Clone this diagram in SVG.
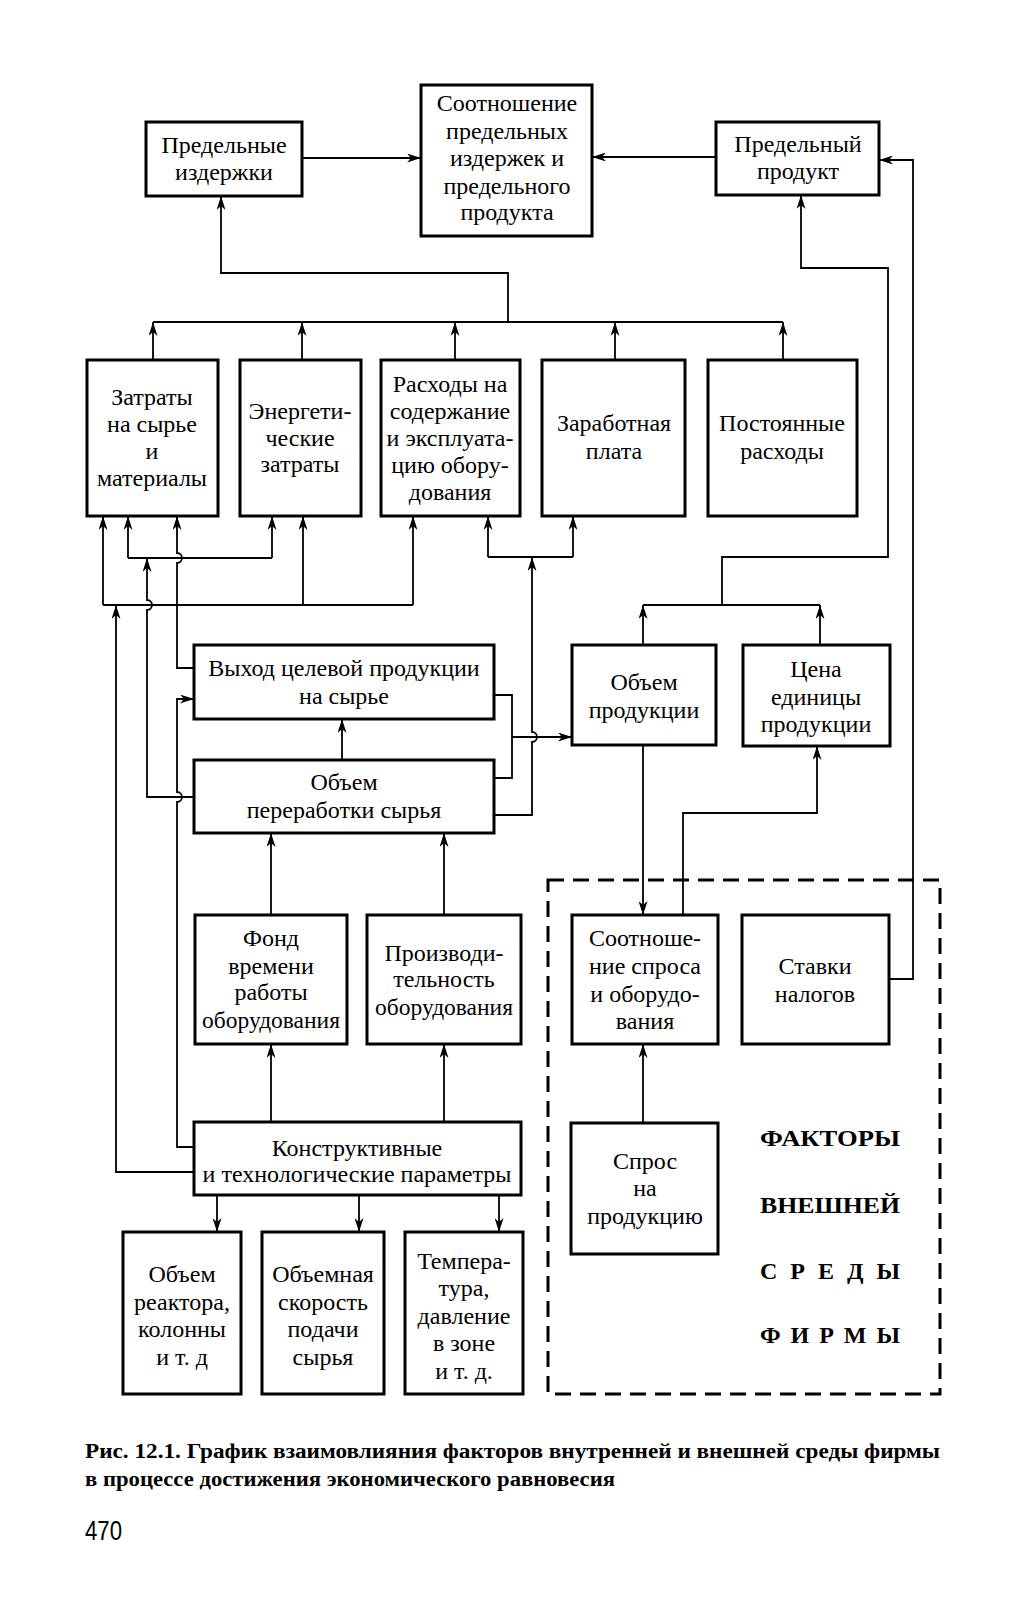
<svg xmlns="http://www.w3.org/2000/svg" width="1022" height="1600" viewBox="0 0 1022 1600">
<style>
.box{fill:#fff;stroke:#000;stroke-width:3}
.ln{fill:none;stroke:#000;stroke-width:1.8}
.dash{fill:none;stroke:#000;stroke-width:3;stroke-dasharray:16 9}
text{font-family:"Liberation Serif","DejaVu Serif",serif;font-size:24px;text-anchor:middle;fill:#000}
.big{font-size:24px;font-weight:bold;text-anchor:start}
.cap{font-size:20px;font-weight:bold;text-anchor:start}
.num{font-family:"Liberation Sans","DejaVu Sans",sans-serif;font-size:28px;text-anchor:start}
</style>
<defs>
<marker id="ar" markerUnits="userSpaceOnUse" markerWidth="15" markerHeight="9" refX="14" refY="4.5" orient="auto">
<path d="M0,0 L14,4.5 L0,9 L4,4.5 z" fill="#000"/>
</marker>
</defs>
<rect width="1022" height="1600" fill="#fff"/>

<g id="connectors">
<path class="ln" d="M302,158 L421,158" marker-end="url(#ar)"/>
<path class="ln" d="M716,157 L592,157" marker-end="url(#ar)"/>
<path class="ln" d="M153,322 L783,322"/>
<path class="ln" d="M508,322 L508,273 L221,273 L221,196" marker-end="url(#ar)"/>
<path class="ln" d="M153,360 L153,322" marker-end="url(#ar)"/>
<path class="ln" d="M302,360 L302,322" marker-end="url(#ar)"/>
<path class="ln" d="M455,360 L455,322" marker-end="url(#ar)"/>
<path class="ln" d="M615,360 L615,322" marker-end="url(#ar)"/>
<path class="ln" d="M783,360 L783,322" marker-end="url(#ar)"/>
<path class="ln" d="M889,979 L913,979 L913,160 L879,160" marker-end="url(#ar)"/>
<path class="ln" d="M722,605 L722,557 L888,557 L888,268 L801,268 L801,195" marker-end="url(#ar)"/>
<path class="ln" d="M643,605 L820,605"/>
<path class="ln" d="M643,645 L643,605" marker-end="url(#ar)"/>
<path class="ln" d="M820,645 L820,605" marker-end="url(#ar)"/>
<path class="ln" d="M128,558 L272,558"/>
<path class="ln" d="M128,558 L128,516" marker-end="url(#ar)"/>
<path class="ln" d="M272,558 L272,516" marker-end="url(#ar)"/>
<path class="ln" d="M194,797 L147,797 L147,610 A5,5 0 0 0 147,600 L147,558" marker-end="url(#ar)"/>
<path class="ln" d="M103,605 L413,605"/>
<path class="ln" d="M103,605 L103,516" marker-end="url(#ar)"/>
<path class="ln" d="M303,605 L303,516" marker-end="url(#ar)"/>
<path class="ln" d="M413,605 L413,516" marker-end="url(#ar)"/>
<path class="ln" d="M194,1172 L116,1172 L116,605" marker-end="url(#ar)"/>
<path class="ln" d="M194,668 L177,668 L177,563 A5,5 0 0 0 177,553 L177,516" marker-end="url(#ar)"/>
<path class="ln" d="M194,1147 L177,1147 L177,802 A5,5 0 0 0 177,792 L177,699 L194,699" marker-end="url(#ar)"/>
<path class="ln" d="M342,760 L342,719" marker-end="url(#ar)"/>
<path class="ln" d="M494,695 L512,695 L512,778 L494,778"/>
<path class="ln" d="M512,737 L572,737" marker-end="url(#ar)"/>
<path class="ln" d="M494,815 L532,815 L532,742 A5,5 0 0 0 532,732 L532,557" marker-end="url(#ar)"/>
<path class="ln" d="M488,557 L573,557"/>
<path class="ln" d="M488,557 L488,516" marker-end="url(#ar)"/>
<path class="ln" d="M573,557 L573,516" marker-end="url(#ar)"/>
<path class="ln" d="M271,915 L271,833" marker-end="url(#ar)"/>
<path class="ln" d="M444,915 L444,833" marker-end="url(#ar)"/>
<path class="ln" d="M271,1122 L271,1044" marker-end="url(#ar)"/>
<path class="ln" d="M444,1122 L444,1044" marker-end="url(#ar)"/>
<path class="ln" d="M217,1195 L217,1232" marker-end="url(#ar)"/>
<path class="ln" d="M359,1195 L359,1232" marker-end="url(#ar)"/>
<path class="ln" d="M499,1195 L499,1232" marker-end="url(#ar)"/>
<path class="ln" d="M643,745 L643,915" marker-end="url(#ar)"/>
<path class="ln" d="M683,915 L683,813 L817,813 L817,746" marker-end="url(#ar)"/>
<path class="ln" d="M643,1123 L643,1044" marker-end="url(#ar)"/>
</g>

<rect class="dash" x="548" y="880" width="392" height="514"/>

<g id="pred-izderzhki">
<rect class="box" x="146" y="122" width="156" height="74"/>
<text x="224" y="153">Предельные</text>
<text x="224" y="180">издержки</text>
</g>
<g id="sootnoshenie">
<rect class="box" x="421" y="85" width="171" height="151"/>
<text x="507" y="111">Соотношение</text>
<text x="507" y="139">предельных</text>
<text x="507" y="166">издержек и</text>
<text x="507" y="194">предельного</text>
<text x="507" y="220">продукта</text>
</g>
<g id="pred-produkt">
<rect class="box" x="716" y="122" width="163" height="73"/>
<text x="798" y="152">Предельный</text>
<text x="798" y="179">продукт</text>
</g>

<g id="zatraty-syrye">
<rect class="box" x="87" y="360" width="131" height="156"/>
<text x="152" y="405">Затраты</text>
<text x="152" y="432">на сырье</text>
<text x="152" y="459">и</text>
<text x="152" y="486">материалы</text>
</g>
<g id="energ">
<rect class="box" x="240" y="360" width="121" height="156"/>
<text x="300" y="419">Энергети-</text>
<text x="300" y="446">ческие</text>
<text x="300" y="472">затраты</text>
</g>
<g id="rashody">
<rect class="box" x="381" y="360" width="139" height="156"/>
<text x="450" y="392">Расходы на</text>
<text x="450" y="419">содержание</text>
<text x="450" y="446">и эксплуата-</text>
<text x="450" y="473">цию обору-</text>
<text x="450" y="500">дования</text>
</g>
<g id="zarplata">
<rect class="box" x="542" y="360" width="143" height="156"/>
<text x="614" y="431">Заработная</text>
<text x="614" y="459">плата</text>
</g>
<g id="postoyannye">
<rect class="box" x="708" y="360" width="149" height="156"/>
<text x="782" y="431">Постоянные</text>
<text x="782" y="459">расходы</text>
</g>

<g id="vyhod">
<rect class="box" x="194" y="645" width="300" height="74"/>
<text x="344" y="676">Выход целевой продукции</text>
<text x="344" y="704">на сырье</text>
</g>
<g id="obem-pererabotki">
<rect class="box" x="194" y="760" width="300" height="73"/>
<text x="344" y="790">Объем</text>
<text x="344" y="818">переработки сырья</text>
</g>
<g id="obem-produkcii">
<rect class="box" x="572" y="645" width="144" height="100"/>
<text x="644" y="690">Объем</text>
<text x="644" y="718">продукции</text>
</g>
<g id="cena">
<rect class="box" x="743" y="645" width="147" height="101"/>
<text x="816" y="677">Цена</text>
<text x="816" y="705">единицы</text>
<text x="816" y="732">продукции</text>
</g>

<g id="fond">
<rect class="box" x="195" y="915" width="152" height="129"/>
<text x="271" y="946">Фонд</text>
<text x="271" y="974">времени</text>
<text x="271" y="1000">работы</text>
<text x="271" y="1028" textLength="138" lengthAdjust="spacingAndGlyphs">оборудования</text>
</g>
<g id="proizv">
<rect class="box" x="367" y="915" width="154" height="129"/>
<text x="444" y="961">Производи-</text>
<text x="444" y="987">тельность</text>
<text x="444" y="1015" textLength="138" lengthAdjust="spacingAndGlyphs">оборудования</text>
</g>
<g id="sootn-sprosa">
<rect class="box" x="572" y="915" width="146" height="129"/>
<text x="645" y="946">Соотноше-</text>
<text x="645" y="974">ние спроса</text>
<text x="645" y="1002">и оборудо-</text>
<text x="645" y="1029">вания</text>
</g>
<g id="stavki">
<rect class="box" x="742" y="915" width="147" height="129"/>
<text x="815" y="974">Ставки</text>
<text x="815" y="1002">налогов</text>
</g>

<g id="konstr">
<rect class="box" x="194" y="1122" width="327" height="73"/>
<text x="357" y="1156">Конструктивные</text>
<text x="357" y="1182">и технологические параметры</text>
</g>
<g id="spros">
<rect class="box" x="571" y="1123" width="147" height="131"/>
<text x="645" y="1169">Спрос</text>
<text x="645" y="1196">на</text>
<text x="645" y="1224">продукцию</text>
</g>

<g id="obem-reaktora">
<rect class="box" x="123" y="1232" width="118" height="162"/>
<text x="182" y="1282">Объем</text>
<text x="182" y="1310">реактора,</text>
<text x="182" y="1337">колонны</text>
<text x="182" y="1365">и т. д</text>
</g>
<g id="obem-skorost">
<rect class="box" x="262" y="1232" width="122" height="162"/>
<text x="323" y="1282">Объемная</text>
<text x="323" y="1310">скорость</text>
<text x="323" y="1337">подачи</text>
<text x="323" y="1365">сырья</text>
</g>
<g id="temperatura">
<rect class="box" x="405" y="1232" width="118" height="162"/>
<text x="464" y="1269">Темпера-</text>
<text x="464" y="1296">тура,</text>
<text x="464" y="1324">давление</text>
<text x="464" y="1351">в зоне</text>
<text x="464" y="1379">и т. д.</text>
</g>

<g id="faktory-label">
<text class="big" x="760" y="1146" textLength="140" lengthAdjust="spacingAndGlyphs">ФАКТОРЫ</text>
<text class="big" x="760" y="1213" textLength="140" lengthAdjust="spacingAndGlyphs">ВНЕШНЕЙ</text>
<text class="big" x="760" y="1279" textLength="140" lengthAdjust="spacing">С Р Е Д Ы</text>
<text class="big" x="760" y="1343" textLength="140" lengthAdjust="spacing">Ф И Р М Ы</text>
</g>

<text class="cap" x="85" y="1458" textLength="855" lengthAdjust="spacingAndGlyphs">Рис. 12.1. График взаимовлияния факторов внутренней и внешней среды фирмы</text>
<text class="cap" x="85" y="1486" textLength="530" lengthAdjust="spacingAndGlyphs">в процессе достижения экономического равновесия</text>
<text class="num" x="85" y="1540" textLength="37" lengthAdjust="spacingAndGlyphs">470</text>
</svg>
